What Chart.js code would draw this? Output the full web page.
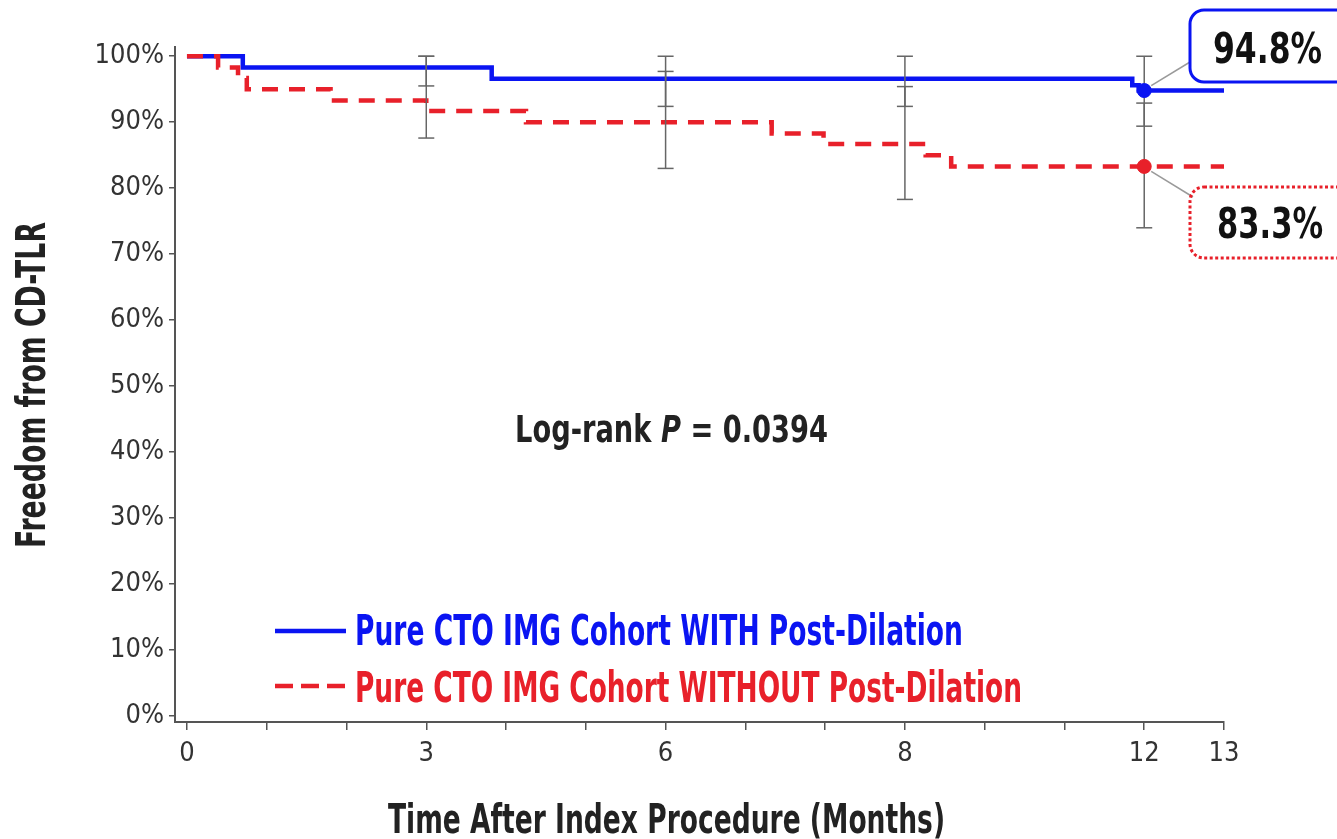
<!DOCTYPE html>
<html>
<head>
<meta charset="utf-8">
<script src="https://cdn.jsdelivr.net/npm/chart.js@4"></script>
<style>
html,body{margin:0;padding:0;background:#fff;}
#wrap{width:1337px;height:839px;}
</style>
</head>
<body>
<div id="wrap"><canvas id="km" width="1337" height="839"></canvas></div>
<script>
// Kaplan-Meier steps; x is the axis position (the axis is labelled 0,3,6,8,12,13)
const withTimes = [0, 0.7, 3.82, 11.85, 11.93, 13];
const withSurv = [100, 98.3, 96.6, 95.6, 94.8, 94.8];
const withoutTimes = [0, 0.39, 0.64, 0.75, 1.8, 3.0, 4.25, 7.33, 7.98, 9.26, 9.58, 13];
const withoutSurv = [100, 98.3, 96.7, 95.0, 93.3, 91.7, 90.0, 88.3, 86.7, 85.0, 83.3, 83.3];

// error bars
const errPos = [3, 6, 9, 12];
const withLo = [95.5, 92.4, 92.4, 89.4];
const withHi = [100, 100, 100, 100];
const withoutLo = [87.6, 83.0, 78.3, 74.0];
const withoutHi = [100, 97.7, 95.4, 92.9];

// 12 month estimates
const markPos = 12;
const withMark = 94.8;
const withoutMark = 83.3;

const xTickPos = [0,1,2,3,4,5,6,7,8,9,10,11,12,13];
const xTickLabels = ['0','','','3','','','6','','','8','','','12','13'];
const yTicks = [0,10,20,30,40,50,60,70,80,90,100];

const seriesNames = ['Pure CTO IMG Cohort WITH Post-Dilation', 'Pure CTO IMG Cohort WITHOUT Post-Dilation'];
const xTitle = 'Time After Index Procedure (Months)';
const yTitle = 'Freedom from CD-TLR';
const withLabel = '94.8%';
const withoutLabel = '83.3%';

const BLUE = '#0a14f2', RED = '#e8202a', GREY = '#666', AXIS = '#555';
const NARROW = "'Liberation Sans Narrow','DejaVu Sans Condensed','Roboto Condensed','Liberation Sans',sans-serif";

const pts = (xs, ys) => xs.map((x,i)=>({x:x, y:ys[i]}));

function errBar(x, lo, hi){
    return {data:[{x:x,y:lo},{x:x,y:hi}], showLine:true, borderColor:GREY, borderWidth:1.5,
        pointStyle:'line', pointRadius:8, pointHoverRadius:8, pointBorderColor:GREY, pointBorderWidth:1.5};
}

function marker(y, col){
    return {data:[{x:markPos,y:y}], showLine:false, pointRadius:7, pointHoverRadius:7,
        pointBackgroundColor:col, pointBorderColor:col};
}

const errSets = [];
errPos.forEach((p,i)=>{
    errSets.push(errBar(p, withLo[i], withHi[i]));
    errSets.push(errBar(p, withoutLo[i], withoutHi[i]));
});

// text squeezed to a given width (the original uses a condensed face)
function squeeze(ctx, parts, x, y, size, width, color, align){
    ctx.save();
    ctx.fillStyle = color;
    ctx.textBaseline = 'alphabetic';
    let total = 0;
    parts.forEach(p=>{
        ctx.font = (p.it ? 'italic ' : '') + 'bold ' + size + 'px ' + NARROW;
        p.w = ctx.measureText(p.t).width;
        total += p.w;
    });
    const sx = width / total;
    ctx.translate(x, y);
    if(align === 'up') ctx.rotate(-Math.PI/2);
    ctx.scale(sx, 1);
    let cx = align === 'up' ? -total/2 : 0;
    parts.forEach(p=>{
        ctx.font = (p.it ? 'italic ' : '') + 'bold ' + size + 'px ' + NARROW;
        ctx.fillText(p.t, cx, 0);
        cx += p.w;
    });
    ctx.restore();
}

const overlay = {
    id:'overlay',
    beforeDraw(chart){
        const c = chart.ctx;
        c.save(); c.fillStyle = '#fff'; c.fillRect(0,0,chart.width,chart.height); c.restore();
    },
    afterDraw(chart){
        const c = chart.ctx;
        const xs = chart.scales.x, ys = chart.scales.y;
        const mx = xs.getPixelForValue(markPos);
        const by = ys.getPixelForValue(withMark), ry = ys.getPixelForValue(withoutMark);

        // axis titles
        squeeze(c, [{t:xTitle}], 388, 833, 41, 557, '#222');
        squeeze(c, [{t:yTitle}], 45, 385, 41, 326, '#222', 'up');

        // legend
        c.save();
        c.lineWidth = 4.5;
        c.strokeStyle = BLUE;
        c.beginPath(); c.moveTo(275,631); c.lineTo(346,631); c.stroke();
        c.strokeStyle = RED;
        c.setLineDash([18,8]);
        c.beginPath(); c.moveTo(275,686); c.lineTo(346,686); c.stroke();
        c.restore();
        squeeze(c, [{t:seriesNames[0]}], 355, 645, 42, 608, BLUE);
        squeeze(c, [{t:seriesNames[1]}], 355, 702, 42, 667, RED);

        // log-rank
        squeeze(c, [{t:'Log-rank '},{t:'P',it:true},{t:' = 0.0394'}], 515, 442, 37, 313, '#222');

        // call-outs
        c.save();
        c.strokeStyle = '#9a9a9a';
        c.lineWidth = 1.5;
        c.beginPath(); c.moveTo(mx+7, by-5); c.lineTo(1190, 62); c.stroke();
        c.beginPath(); c.moveTo(mx+7, ry+5); c.lineTo(1193, 197); c.stroke();
        c.lineWidth = 3;
        c.strokeStyle = BLUE;
        c.beginPath(); c.roundRect(1190, 10, 165, 72, 14); c.stroke();
        c.strokeStyle = RED;
        c.setLineDash([3,2.5]);
        c.beginPath(); c.roundRect(1190, 187, 165, 71, 14); c.stroke();
        c.restore();
        squeeze(c, [{t:withLabel}], 1213, 63, 43, 109, '#111');
        squeeze(c, [{t:withoutLabel}], 1217, 238, 43, 106, '#111');
    }
};

new Chart(document.getElementById('km'), {
    type:'scatter',
    data:{datasets:[
        marker(withMark, BLUE),
        marker(withoutMark, RED),
        ...errSets,
        {label:seriesNames[1], data:pts(withoutTimes, withoutSurv), showLine:true, stepped:true,
            borderColor:RED, borderWidth:4.5, borderDash:[16,11], pointRadius:0, pointHoverRadius:0},
        {label:seriesNames[0], data:pts(withTimes, withSurv), showLine:true, stepped:true,
            borderColor:BLUE, borderWidth:4.5, pointRadius:0, pointHoverRadius:0}
    ]},
    options:{
        responsive:false,
        animation:false,
        devicePixelRatio:1,
        events:[],
        layout:{padding:{top:47, right:113, left:0, bottom:0}},
        plugins:{legend:{display:false}, tooltip:{enabled:false}},
        scales:{
            x:{
                type:'linear', min:-0.15, max:13,
                afterBuildTicks: s=>{ s.ticks = xTickPos.map(v=>({value:v})); },
                afterFit: s=>{ s.height = 117; },
                ticks:{autoSkip:false, maxRotation:0, padding:8, color:'#333',
                    font:{family:NARROW, size:27},
                    callback: v=>{ const i = xTickPos.indexOf(v); return i < 0 ? '' : xTickLabels[i]; }},
                grid:{drawOnChartArea:false, tickLength:8, color:AXIS, lineWidth:1.5},
                border:{color:AXIS, width:2}
            },
            y:{
                type:'linear', min:-0.9, max:101.4,
                afterBuildTicks: s=>{ s.ticks = yTicks.map(v=>({value:v})); },
                afterFit: s=>{ s.width = 175; },
                ticks:{padding:5, color:'#333', font:{family:NARROW, size:27},
                    callback: v=> v + '%'},
                grid:{drawOnChartArea:false, tickLength:6, color:AXIS, lineWidth:1.5},
                border:{color:AXIS, width:2}
            }
        }
    },
    plugins:[overlay]
});
</script>
</body>
</html>
